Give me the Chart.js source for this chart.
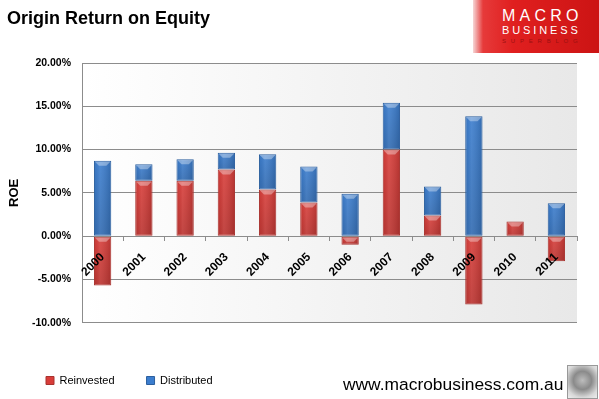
<!DOCTYPE html>
<html>
<head>
<meta charset="utf-8">
<script src="https://cdn.jsdelivr.net/npm/chart.js@4.4.0/dist/chart.umd.min.js"></script>
<style>
  html, body { margin: 0; padding: 0; background: #fff; }
  #wrap { position: relative; width: 599px; height: 399px; overflow: hidden; font-family: "Liberation Sans", Arial, sans-serif; }
  #chart { position: absolute; left: 0; top: 0; }
  #title { position: absolute; left: 7px; top: 8px; font-weight: bold; font-size: 18px; color: #000; white-space: nowrap; }
  #logo { position: absolute; left: 473px; top: 0; width: 126px; height: 53px;
          background: linear-gradient(90deg, #f6d6d6 0px, #e63a3a 10px, #e01f1f 40px, #cc1414 126px); }
  #logo .m { position: absolute; left: 29px; top: 7px; color: #fff; font-size: 16px; letter-spacing: 4.2px; }
  #logo .b { position: absolute; left: 29px; top: 24px; color: #fff; font-size: 11px; letter-spacing: 2.9px; }
  #logo .s { position: absolute; left: 29px; top: 38px; color: #9c1010; font-size: 6px; letter-spacing: 4.8px; }
  #footer { position: absolute; left: 343px; top: 374px; font-size: 17.4px; color: #000; white-space: nowrap; }
  #wolf { position: absolute; left: 567px; top: 365px; width: 29px; height: 32px; border: 1px solid #999;
          background: radial-gradient(circle at 50% 45%, #bdbdbd 0, #8a8a8a 40%, #d8d8d8 75%, #eee 100%); }
</style>
</head>
<body>
<div id="wrap">
  <canvas id="chart" width="599" height="399"></canvas>
  <div id="title">Origin Return on Equity</div>
  <div id="logo"><div class="m">MACRO</div><div class="b">BUSINESS</div><div class="s">SUPERBLOG</div></div>
  <div id="footer">www.macrobusiness.com.au</div>
  <div id="wolf"></div>
</div>
<script>
const years = ['2000','2001','2002','2003','2004','2005','2006','2007','2008','2009','2010','2011'];
const reinvested = [-5.7, 6.4, 6.4, 7.7, 5.4, 3.9, -1.0, 10.0, 2.4, -7.9, 1.7, -2.9];
const distributed = [8.7, 1.9, 2.5, 1.95, 4.05, 4.15, 4.9, 5.4, 3.35, 13.85, 0, 3.8];
const yTicks = [-10, -5, 0, 5, 10, 15, 20];

const bgPlugin = {
  id: 'plotBg',
  beforeDraw(chart) {
    const a = chart.chartArea, c = chart.ctx;
    const g = c.createLinearGradient(a.left, 0, a.right, 0);
    g.addColorStop(0, '#ffffff');
    g.addColorStop(1, '#e8e8e8');
    c.save();
    c.fillStyle = g;
    c.fillRect(a.left, a.top, a.right - a.left, a.bottom - a.top);
    c.restore();
  }
};

// subtle bevel shading on each bar, using the library's bar geometry
const shadePlugin = {
  id: 'barShade',
  afterDatasetsDraw(chart) {
    const c = chart.ctx;
    c.save();
    chart.data.datasets.forEach((ds, di) => {
      const meta = chart.getDatasetMeta(di);
      meta.data.forEach((bar, i) => {
        if (!ds.data[i]) return;
        const p = bar.getProps(['x', 'y', 'base', 'width'], true);
        const l = p.x - p.width / 2, r = p.x + p.width / 2;
        const t = Math.min(p.y, p.base), b = Math.max(p.y, p.base);
        if (b - t < 2) return;
        const g = c.createLinearGradient(l, 0, r, 0);
        g.addColorStop(0, 'rgba(0,0,0,0.05)');
        g.addColorStop(0.35, 'rgba(255,255,255,0.10)');
        g.addColorStop(1, 'rgba(0,0,0,0.15)');
        c.fillStyle = g;
        c.fillRect(l + 1, t + 1, r - l - 2, b - t - 2);
        const v = c.createLinearGradient(0, t, 0, b);
        v.addColorStop(0, 'rgba(0,0,0,0)');
        v.addColorStop(1, 'rgba(0,0,0,0.12)');
        c.fillStyle = v;
        c.fillRect(l + 1, t + 1, r - l - 2, b - t - 2);
        const h = Math.min(4, (b - t) / 2);
        c.fillStyle = 'rgba(255,255,255,0.35)';
        c.beginPath();
        c.moveTo(l + 1, t + 1);
        c.lineTo(r - 1, t + 1);
        c.lineTo(r - 1 - h, t + 1 + h);
        c.lineTo(l + 1 + h, t + 1 + h);
        c.closePath();
        c.fill();
      });
    });
    c.restore();
  }
};

const grid = '#8c8c8c';
new Chart(document.getElementById('chart'), {
  type: 'bar',
  data: {
    labels: years,
    datasets: [
      { label: 'Reinvested', data: reinvested, backgroundColor: '#d83d39', borderColor: '#a8332f', borderWidth: 1, borderSkipped: false },
      { label: 'Distributed', data: distributed, backgroundColor: '#3b7dce', borderColor: '#2c5f9e', borderWidth: 1, borderSkipped: false }
    ]
  },
  options: {
    responsive: false,
    animation: false,
    devicePixelRatio: 1,
    layout: { padding: { left: 14, right: 22, top: 63, bottom: 3 } },
    datasets: { bar: { categoryPercentage: 1, barPercentage: 0.42 } },
    scales: {
      x: {
        stacked: true,
        position: { y: 0 },
        grid: { display: true, drawOnChartArea: false, offset: true, tickLength: 4, color: grid },
        border: { display: true, color: grid },
        ticks: { z: 1, minRotation: 45, maxRotation: 45, padding: 10, color: '#000', font: { family: 'Liberation Sans', size: 12, weight: 'bold' } }
      },
      y: {
        stacked: true,
        min: -10, max: 20,
        afterBuildTicks(scale) { scale.ticks = yTicks.map(v => ({ value: v })); },
        afterFit(scale) { scale.width = 68; },
        grid: { color: grid, drawTicks: false },
        border: { display: true, color: grid },
        ticks: { padding: 11, color: '#000', font: { family: 'Liberation Sans', size: 10.5, weight: 'bold' },
                 callback: v => v.toFixed(2) + '%' },
        title: { display: true, text: 'ROE', color: '#000', padding: { top: -7, bottom: 0 }, font: { family: 'Liberation Sans', size: 13, weight: 'bold' } }
      }
    },
    plugins: {
      legend: {
        position: 'bottom',
        align: 'start',
        title: { display: true, text: '', font: { size: 1 }, padding: { top: 19, bottom: 0 } },
        labels: { boxWidth: 8, boxHeight: 8, padding: 32, color: '#000', font: { family: 'Liberation Sans', size: 11 } }
      },
      tooltip: { enabled: false }
    }
  },
  plugins: [bgPlugin, shadePlugin]
});
</script>
</body>
</html>
